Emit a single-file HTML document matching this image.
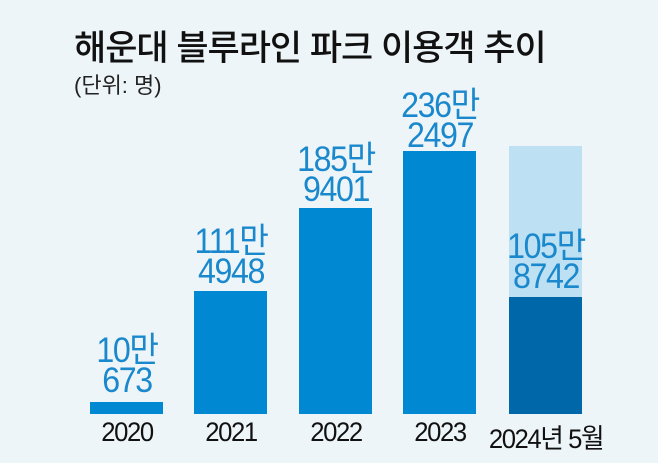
<!DOCTYPE html>
<html><head><meta charset="utf-8"><style>
body{margin:0;width:658px;height:463px;background:#eef5f8;position:relative;overflow:hidden;font-family:"Liberation Sans","Noto Sans CJK KR",sans-serif}
.t{position:absolute;left:74px;top:20px;font-size:35px;font-weight:500;color:#111;letter-spacing:-1px}
.s{position:absolute;left:74px;top:68px;font-size:22px;color:#222}
.b{position:absolute;width:73px;background:#0089d2}
.v{position:absolute;width:140px;text-align:center;color:#1a88cc;font-size:35px;line-height:30px;letter-spacing:-1.5px;transform:scaleX(0.92)}
.y{position:absolute;top:417px;width:160px;text-align:center;color:#111;font-size:27px;letter-spacing:-1.5px;transform:scaleX(0.95)}
</style></head><body>
<div class="t">해운대 블루라인 파크 이용객 추이</div>
<div class="s">(단위: 명)</div>
<div class="b" style="left:90px;top:402px;height:12px"></div>
<div class="b" style="left:194px;top:291px;height:123px"></div>
<div class="b" style="left:299px;top:208px;height:206px"></div>
<div class="b" style="left:403px;top:151px;height:263px"></div>
<div class="b" style="left:509px;top:146px;height:151px;background:#bde0f2"></div>
<div class="b" style="left:509px;top:297px;height:117px;background:#0068a8"></div>
<div class="v" style="left:57px;top:336px">10만<br>673</div>
<div class="v" style="left:161px;top:227px">111만<br>4948</div>
<div class="v" style="left:266px;top:145px">185만<br>9401</div>
<div class="v" style="left:370px;top:91px">236만<br>2497</div>
<div class="v" style="left:476px;top:232px">105만<br>8742</div>
<div class="y" style="left:47px">2020</div>
<div class="y" style="left:151px">2021</div>
<div class="y" style="left:256px">2022</div>
<div class="y" style="left:360px">2023</div>
<div class="y" style="width:200px;left:446px">2024년 5월</div>
</body></html>
